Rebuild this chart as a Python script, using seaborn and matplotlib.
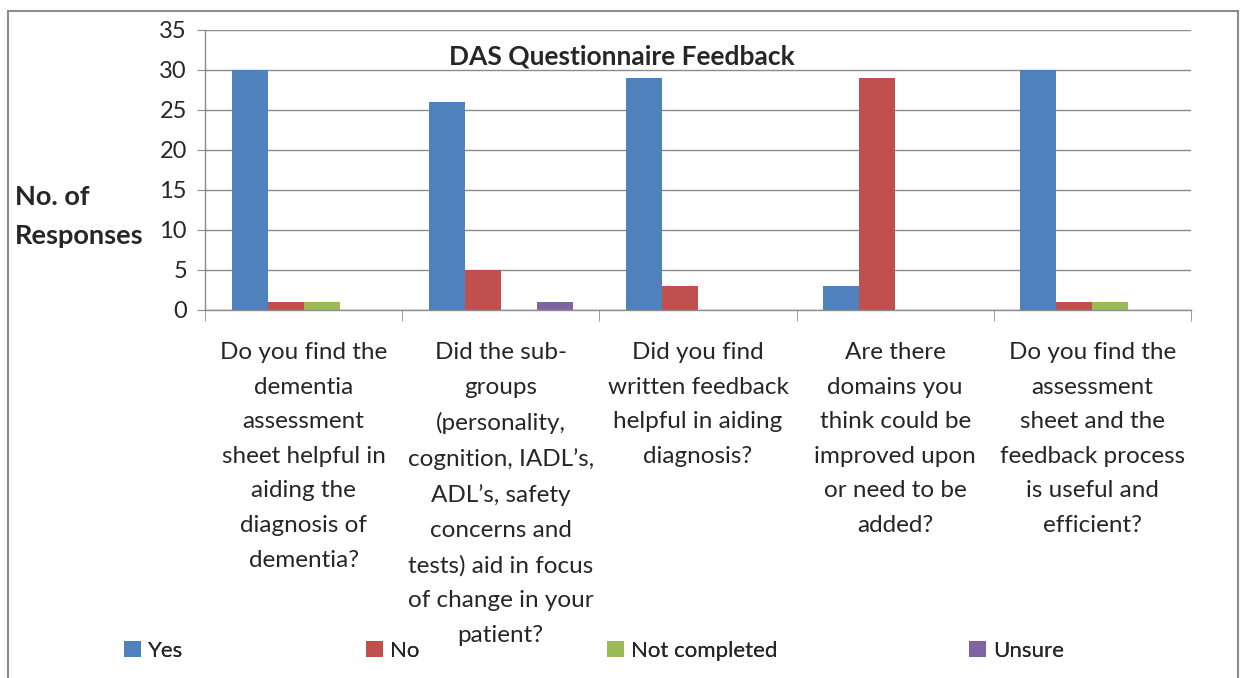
import pandas as pd
import seaborn as sns
import matplotlib
matplotlib.use('Agg')
import matplotlib.pyplot as plt
from matplotlib.patches import Rectangle

# data
questions = [
    "Do you find the\ndementia\nassessment\nsheet helpful in\naiding the\ndiagnosis of\ndementia?",
    "Did the sub-\ngroups\n(personality,\ncognition, IADL\u2019s,\nADL\u2019s, safety\nconcerns and\ntests) aid in focus\nof change in your\npatient?",
    "Did you find\nwritten feedback\nhelpful in aiding\ndiagnosis?",
    "Are there\ndomains you\nthink could be\nimproved upon\nor need to be\nadded?",
    "Do you find the\nassessment\nsheet and the\nfeedback process\nis useful and\nefficient?",
]
answers = ["Yes", "No", "Not completed", "Unsure"]
yes = [30, 26, 29, 3, 30]
no = [1, 5, 3, 29, 1]
not_completed = [1, 0, 0, 0, 1]
unsure = [0, 1, 0, 0, 0]
colors = ["#4F81BD", "#C0504D", "#9BBB59", "#8064A2"]

rows = []
for series, vals in zip(answers, [yes, no, not_completed, unsure]):
    for q, v in zip(questions, vals):
        rows.append({"question": q, "answer": series, "count": v})
df = pd.DataFrame(rows)

sns.set_style("white")
plt.rcParams['font.family'] = ['Lato', 'DejaVu Sans']

fig = plt.figure(figsize=(12.44, 6.78), dpi=100)
ax = fig.add_axes([205/1244, 1 - 310/678, (1191 - 205)/1244, 280/678])

sns.barplot(data=df, x="question", y="count", hue="answer", hue_order=answers,
            palette=colors, width=0.73, gap=0, saturation=1, linewidth=0, ax=ax)

ax.set_ylim(0, 35)
ax.set_xlim(-0.5, 4.5)
ax.set_yticks(range(0, 36, 5))
ax.yaxis.grid(True, color="#8c8c8c", linewidth=1)
ax.set_axisbelow(True)
ax.set_xlabel("")
ax.set_ylabel("")
for s in ["top", "right"]:
    ax.spines[s].set_visible(False)
for s in ["left", "bottom"]:
    ax.spines[s].set_color("#8c8c8c")
    ax.spines[s].set_linewidth(1)

ax.tick_params(axis="y", labelsize=17, length=6, color="#8c8c8c", left=True, pad=7)
ax.tick_params(axis="x", which="major", length=0, labelsize=17.5, pad=23)
ax.set_xticks([i - 0.5 for i in range(6)], minor=True)
ax.tick_params(axis="x", which="minor", length=8, color="#8c8c8c", bottom=True)
for lab in ax.get_xticklabels():
    lab.set_linespacing(1.8)
    lab.set_verticalalignment("top")

fig.text(0.5, 1 - 56/678, "DAS Questionnaire Feedback",
         ha="center", va="center", fontsize=19, fontweight="bold")
fig.text(15/1244, 1 - 216/678, "No. of\nResponses", ha="left", va="center",
         fontsize=19.5, fontweight="bold", linespacing=1.75)

# legend entries placed like the original (uneven spacing)
handles, labels = ax.get_legend_handles_labels()
ax.get_legend().remove()
legend_x = [115, 357, 598, 960]
for h, l, x in zip(handles, labels, legend_x):
    lg = fig.legend([h], [l], loc="center left", bbox_to_anchor=(x/1244, 1 - 651/678),
                    frameon=False, fontsize=16, handlelength=0.75, handleheight=0.75,
                    handletextpad=0.35, borderaxespad=0)
    fig.add_artist(lg)

fig.add_artist(Rectangle((8/1244, -0.02), (1238 - 8)/1244, 1.02 - 11/678,
                         transform=fig.transFigure, fill=False,
                         edgecolor="#8c8c8c", linewidth=1.5))

fig.savefig("out.png", dpi=100)
